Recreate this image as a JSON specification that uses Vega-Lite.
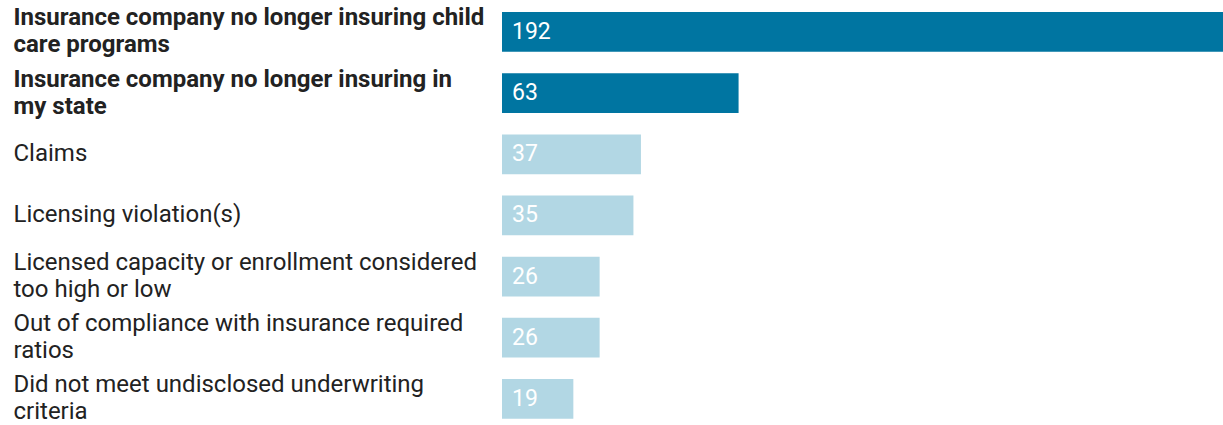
{
  "$schema": "https://vega.github.io/schema/vega-lite/v6.json",
  "width": 721,
  "height": 425,
  "autosize": {"type": "none"},
  "padding": {"left": 502, "top": 0, "right": 0, "bottom": 0},
  "background": "white",
  "config": {"view": {"stroke": null}, "font": "Roboto"},
  "data": {
    "values": [
      {"reason": "Insurance company no longer insuring child|care programs", "count": 192, "highlight": "yes"},
      {"reason": "Insurance company no longer insuring in|my state", "count": 63, "highlight": "yes"},
      {"reason": "Claims", "count": 37, "highlight": "no"},
      {"reason": "Licensing violation(s)", "count": 35, "highlight": "no"},
      {"reason": "Licensed capacity or enrollment considered|too high or low", "count": 26, "highlight": "no"},
      {"reason": "Out of compliance with insurance required|ratios", "count": 26, "highlight": "no"},
      {"reason": "Did not meet undisclosed underwriting|criteria", "count": 19, "highlight": "no"}
    ]
  },
  "encoding": {
    "y": {
      "field": "reason",
      "type": "nominal",
      "sort": null,
      "scale": {"paddingInner": 0.35, "paddingOuter": 0.15, "align": 0.66},
      "axis": {
        "title": null,
        "domain": false,
        "ticks": false,
        "labelAlign": "left",
        "labelBaseline": "middle",
        "labelPadding": 489,
        "labelFont": "Roboto",
        "labelFontSize": 24,
        "labelLineHeight": 27,
        "labelColor": "#222222",
        "labelLimit": 0,
        "labelExpr": "split(datum.value, '|')",
        "labelOffset": {"condition": {"test": "indexof(datum.value, '|') >= 0", "value": -13.5}, "value": 0},
        "labelFontWeight": {"condition": {"test": "indexof(datum.value, 'Insurance company') === 0", "value": "bold"}, "value": "normal"}
      }
    }
  },
  "layer": [
    {
      "mark": {"type": "bar"},
      "encoding": {
        "x": {"field": "count", "type": "quantitative", "scale": {"domain": [0, 192], "nice": false}, "axis": null},
        "color": {
          "field": "highlight",
          "type": "nominal",
          "scale": {"domain": ["yes", "no"], "range": ["#0075a1", "#b2d7e4"]},
          "legend": null
        }
      }
    },
    {
      "mark": {"type": "text", "align": "left", "baseline": "middle", "dx": 10, "font": "Roboto", "fontSize": 23, "color": "white"},
      "encoding": {
        "x": {"datum": 0, "type": "quantitative"},
        "text": {"field": "count", "type": "quantitative"}
      }
    }
  ]
}
